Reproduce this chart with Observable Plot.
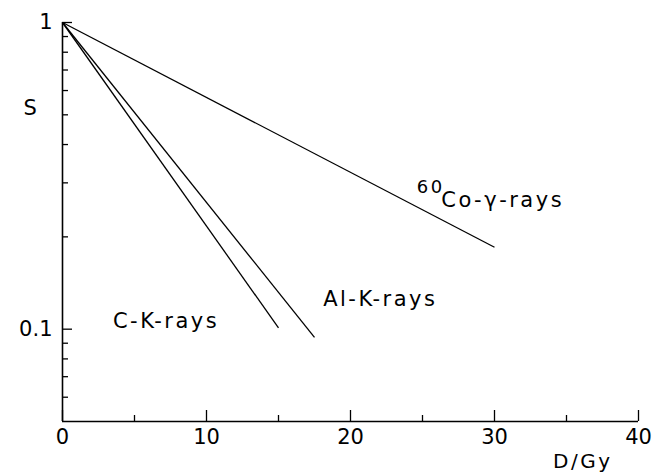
<!DOCTYPE html>
<html>
<head>
<meta charset="utf-8">
<script src="https://cdn.jsdelivr.net/npm/d3@7"></script>
<script src="https://cdn.jsdelivr.net/npm/@observablehq/plot@0.6"></script>
<style>
  body { margin: 0; background: #fff; }
  #chart svg text { font-family: "DejaVu Sans", sans-serif; fill: #000; }
</style>
</head>
<body>
<div id="chart"></div>
<script>
// Survival curves S(D) = exp(-D/D0): straight lines on a log axis
const radiations = ["C-K-rays", "Al-K-rays", "Co-γ-rays"];
const isotopes = ["", "", "60"];
const doseStart = [0, 0, 0];
const survivalStart = [1, 1, 1];
const doseEnd = [15, 17.5, 30];
const survivalEnd = [0.101, 0.094, 0.185];

// Where each curve is named
const labelDose = [3.5, 18.1, 26.3];
const labelSurvival = [0.106, 0.125, 0.264];
const isotopeDose = [24.6];
const isotopeSurvival = [0.29];

// Axis ticks
const doseTicks = [0, 10, 20, 30, 40];
const doseMinorTicks = [5, 15, 25, 35];
const survivalTicks = [1, 0.1];
const survivalMinorTicks = [0.9, 0.8, 0.7, 0.6, 0.5, 0.4, 0.3, 0.2, 0.09, 0.08, 0.07, 0.06];

const curves = radiations.map((name, i) => ({
  name, x1: doseStart[i], y1: survivalStart[i], x2: doseEnd[i], y2: survivalEnd[i]
}));
const labels = radiations.map((name, i) => ({name, x: labelDose[i], y: labelSurvival[i]}));
const supers = isotopes.filter(d => d).map((t, i) => ({t, x: isotopeDose[i], y: isotopeSurvival[i]}));

const chart = Plot.plot({
  width: 654,
  height: 475,
  marginLeft: 62,
  marginRight: 16,
  marginTop: 22,
  marginBottom: 54,
  x: {domain: [0, 40]},
  y: {type: "log", domain: [0.05, 1]},
  style: {fontSize: "20px", background: "#fff", color: "#000"},
  marks: [
    // axis lines
    Plot.ruleX([0], {stroke: "#000", strokeWidth: 1.6}),
    Plot.ruleY([0.05], {stroke: "#000", strokeWidth: 1.6}),
    // inward ticks
    Plot.axisX({ticks: doseTicks, tickSize: -11, tickFormat: () => "", strokeWidth: 1.3}),
    Plot.axisX({ticks: doseMinorTicks, tickSize: -6, tickFormat: () => "", strokeWidth: 1.3}),
    Plot.axisX({ticks: doseTicks, tickSize: 0, tickPadding: 8, tickFormat: d => String(d), label: null, fontSize: 21}),
    Plot.axisY({ticks: survivalTicks, tickSize: -10, tickFormat: () => "", strokeWidth: 1.3}),
    Plot.axisY({ticks: survivalMinorTicks, tickSize: -6, tickFormat: () => "", strokeWidth: 1.3}),
    Plot.axisY({ticks: survivalTicks, tickSize: 0, tickPadding: 10, tickFormat: d => String(d), label: null, fontSize: 21}),
    // survival curves
    Plot.link(curves, {x1: "x1", y1: "y1", x2: "x2", y2: "y2", stroke: "#000", strokeWidth: 1.3}),
    // curve names
    Plot.text(labels, {x: "x", y: "y", text: "name", textAnchor: "start", fontSize: 21}),
    Plot.text(supers, {x: "x", y: "y", text: "t", textAnchor: "start", fontSize: 18}),
    // axis titles
    Plot.text(["S"], {frameAnchor: "top-left", dx: -39, dy: 78, fontSize: 21}),
    Plot.text(["D/Gy"], {frameAnchor: "bottom-right", dx: -26, dy: 46, textAnchor: "end", fontSize: 20})
  ]
});

d3.select(chart).selectAll('g[aria-label="text"] text').style("letter-spacing", "2.5px");
document.getElementById("chart").appendChild(chart);
</script>
</body>
</html>
